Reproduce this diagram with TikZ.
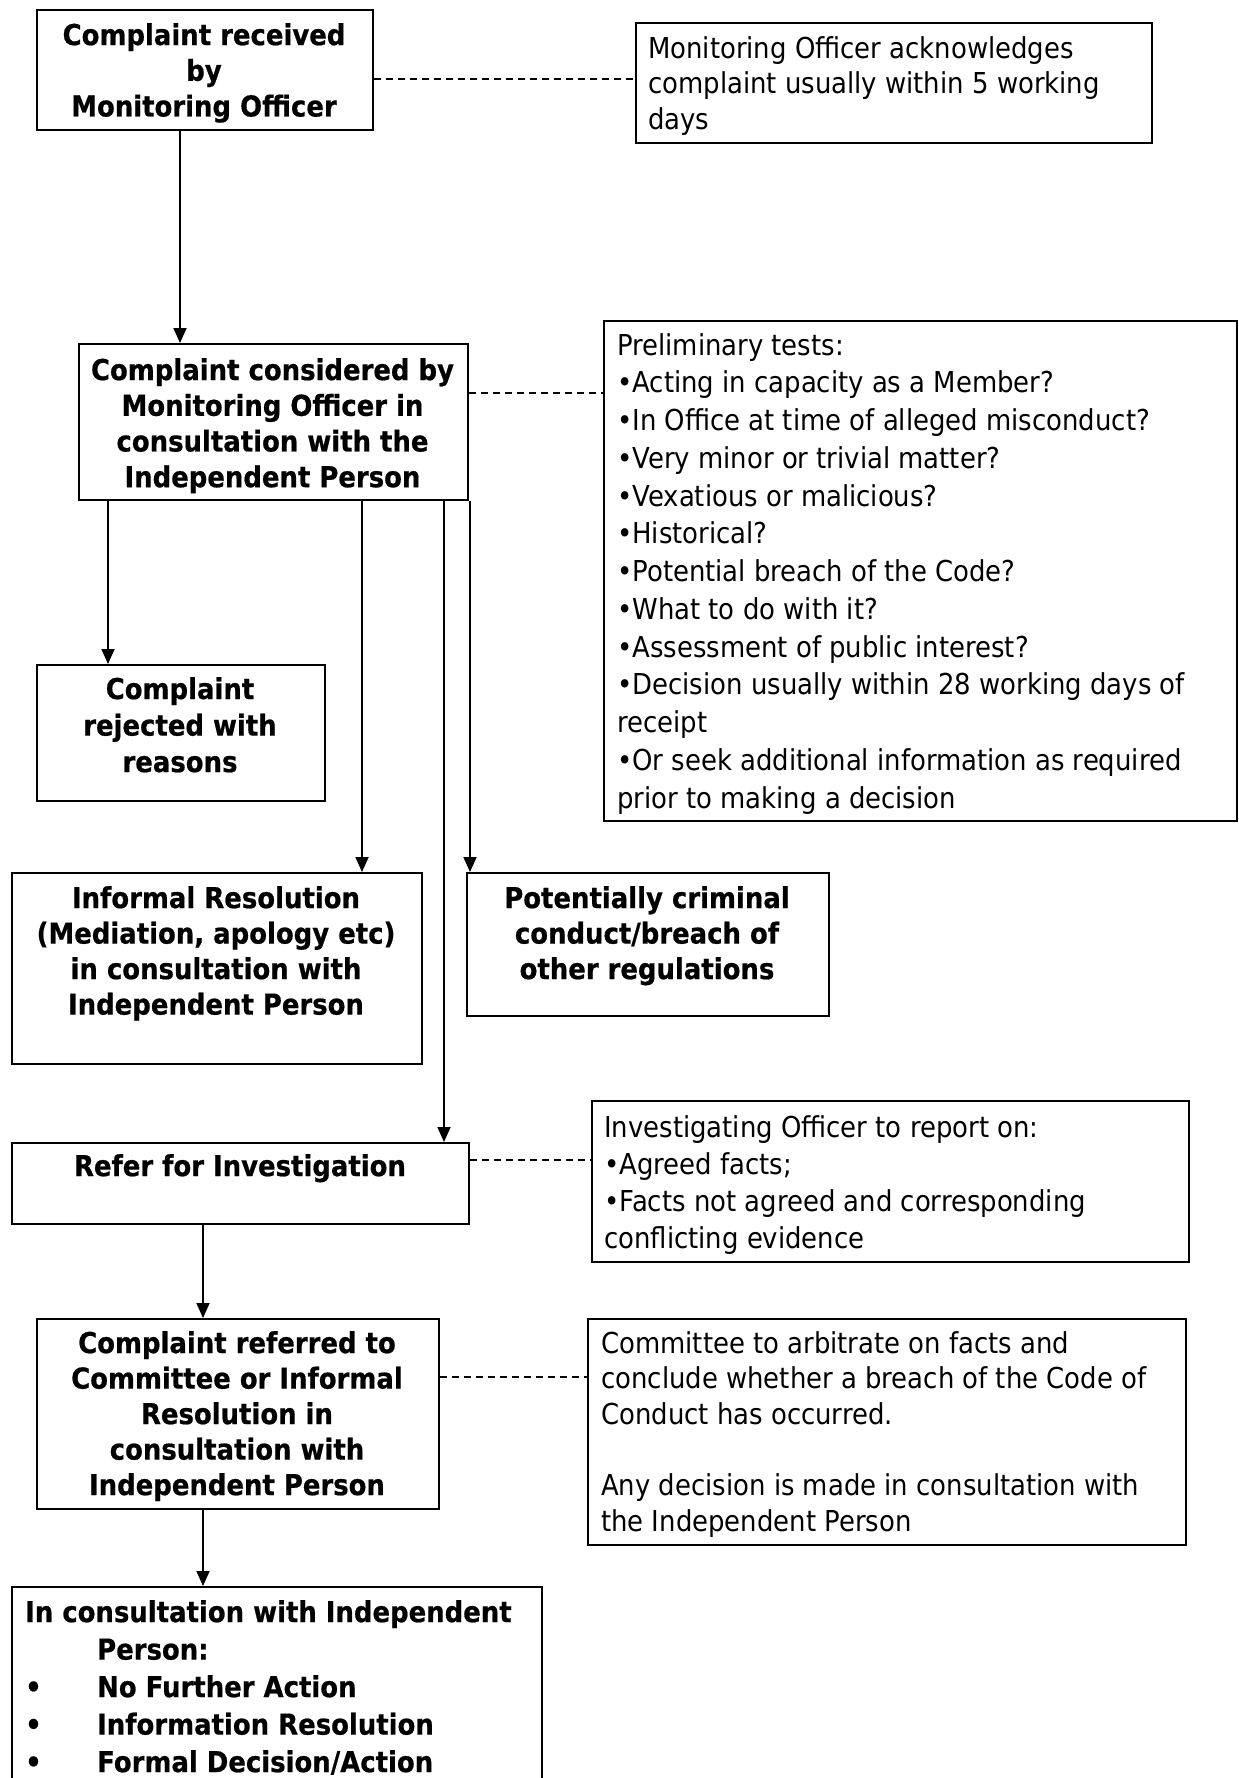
\documentclass[tikz,border=0pt]{standalone}
\usepackage{fontspec}
\setmainfont{DejaVu Sans}[FakeStretch=0.9, BoldFeatures={FakeStretch=0.9, FakeBold=0.6}]
\usetikzlibrary{arrows.meta}
\newcommand\BoldTxt[1]{\fontsize{28.8}{#1}\selectfont\bfseries}
\newcommand\RegTxt[1]{\fontsize{28.8}{#1}\selectfont}
\begin{document}
\begin{tikzpicture}[x=1pt,y=-1pt,
  box/.style={draw, line width=2pt, inner sep=0pt, anchor=north west, rectangle},
  ctext/.style={anchor=north, align=center, inner sep=0pt},
  ltext/.style={anchor=north west, align=left, inner sep=0pt},
  arr/.style={line width=1.8pt, -{Triangle[length=15pt,width=13pt]}},
  dsh/.style={line width=1.3pt, dash pattern=on 7pt off 5pt}]
\useasboundingbox (0,0) rectangle (1239,1778);
\clip (0,0) rectangle (1239,1778);

% boxes
\node[box, minimum width=336pt, minimum height=120pt] (recv) at (36,9) {};
\node[box, minimum width=516pt, minimum height=120pt] (ack) at (635,22) {};
\node[box, minimum width=389pt, minimum height=156pt] (cons) at (78,343) {};
\node[box, minimum width=633pt, minimum height=500pt] (prel) at (603,320) {};
\node[box, minimum width=288pt, minimum height=136pt] (rej) at (36,664) {};
\node[box, minimum width=410pt, minimum height=191pt] (inf) at (11,872) {};
\node[box, minimum width=362pt, minimum height=143pt] (crim) at (466,872) {};
\node[box, minimum width=457pt, minimum height=81pt] (ref) at (11,1142) {};
\node[box, minimum width=597pt, minimum height=161pt] (inv) at (591,1100) {};
\node[box, minimum width=402pt, minimum height=190pt] (cref) at (36,1318) {};
\node[box, minimum width=598pt, minimum height=226pt] (comm) at (587,1318) {};
\node[box, minimum width=530pt, minimum height=260pt] (fin) at (11,1586) {};

% texts
\node[ctext, font=\BoldTxt{35.7}] (recvT) at (204,23) {Complaint received\\by\\Monitoring Officer};
\node[ltext, font=\RegTxt{35.5}] (ackT) at (648,36) {Monitoring Officer acknowledges\\complaint usually within 5 working\\days};
\node[ctext, font=\BoldTxt{35.7}] (consT) at (272.5,358) {Complaint considered by\\Monitoring Officer in\\consultation with the\\Independent Person};
\node[ltext, font=\RegTxt{37.75}] (prelT) at (617,333) {Preliminary tests:\\
•Acting in capacity as a Member?\\
•In Office at time of alleged misconduct?\\
•Very minor or trivial matter?\\
•Vexatious or malicious?\\
•Historical?\\
•Potential breach of the Code?\\
•What to do with it?\\
•Assessment of public interest?\\
•Decision usually within 28 working days of\\
receipt\\
•Or seek additional information as required\\
prior to making a decision};
\node[ctext, font=\BoldTxt{36.5}] (rejT) at (180,677) {Complaint\\rejected with\\reasons};
\node[ctext, font=\BoldTxt{35.5}] (infT) at (216,886) {Informal Resolution\\(Mediation, apology etc)\\in consultation with\\Independent Person};
\node[ctext, font=\BoldTxt{35.5}] (crimT) at (647,886) {Potentially criminal\\conduct/breach of\\other regulations};
\node[ctext, font=\BoldTxt{35.5}] (refT) at (240,1154) {Refer for Investigation};
\node[ltext, font=\RegTxt{37}] (invT) at (604,1115) {Investigating Officer to report on:\\
•Agreed facts;\\
•Facts not agreed and corresponding\\
conflicting evidence};
\node[ctext, font=\BoldTxt{35.5}] (crefT) at (237,1331) {Complaint referred to\\Committee or Informal\\Resolution in\\consultation with\\Independent Person};
\node[ltext, font=\RegTxt{35.6}] (commT) at (601,1331) {Committee to arbitrate on facts and\\
conclude whether a breach of the Code of\\
Conduct has occurred.\\[35.6pt]
Any decision is made in consultation with\\
the Independent Person};
\node[ltext, font=\BoldTxt{37.5}] (finT) at (25,1600) {In consultation with Independent\\
\hspace*{72pt}Person:\\
\makebox[72pt][l]{•}No Further Action\\
\makebox[72pt][l]{•}Information Resolution\\
\makebox[72pt][l]{•}Formal Decision/Action};

% connector x / y positions
\coordinate (xa) at (180,0);
\coordinate (xb) at (108,0);
\coordinate (xc) at (362,0);
\coordinate (xd) at (444,0);
\coordinate (xe) at (470,0);
\coordinate (xf) at (203,0);
\coordinate (ya) at (0,79);
\coordinate (yb) at (0,393);
\coordinate (yc) at (0,1160);
\coordinate (yd) at (0,1377);

% arrows
\draw[arr] (recv.south -| xa) -- (cons.north -| xa);
\draw[arr] (cons.south -| xb) -- (rej.north -| xb);
\draw[arr] (cons.south -| xc) -- (inf.north -| xc);
\draw[arr] (cons.south -| xd) -- (ref.north -| xd);
\draw[arr] (cons.south -| xe) -- (crim.north -| xe);
\draw[arr] (ref.south -| xf) -- (cref.north -| xf);
\draw[arr] (cref.south -| xf) -- (fin.north -| xf);

% dashed links
\draw[dsh] (recv.east |- ya) -- (ack.west |- ya);
\draw[dsh] (cons.east |- yb) -- (prel.west |- yb);
\draw[dsh] (ref.east |- yc) -- (inv.west |- yc);
\draw[dsh] (cref.east |- yd) -- (comm.west |- yd);
\end{tikzpicture}
\end{document}
